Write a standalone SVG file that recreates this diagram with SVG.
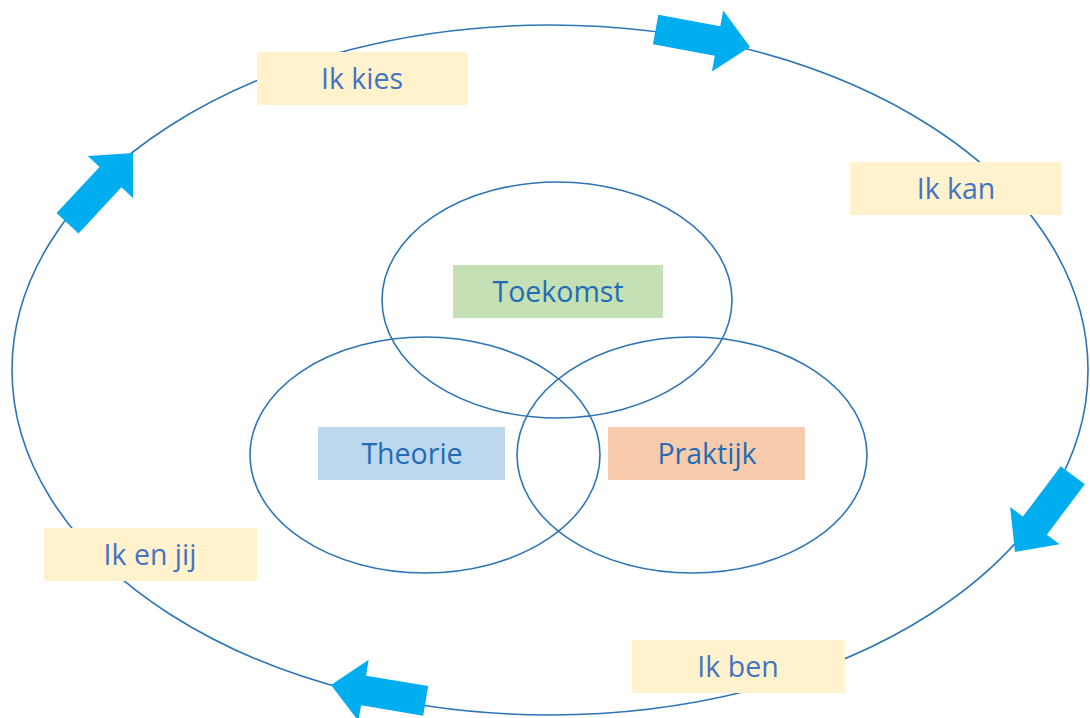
<svg xmlns="http://www.w3.org/2000/svg" width="1090" height="718" viewBox="0 0 1090 718">
  <defs>
    <style>
      .ring { fill: none; stroke: #2E75B6; stroke-width: 1.6; }
      .arrow { fill: #00AEEF; }
      .lbl { font-family: "Open Sans", "Noto Sans", "Liberation Sans", sans-serif; font-size: 28.5px; text-anchor: middle; dominant-baseline: central; }
      .outer-box { fill: #FFF2CC; }
      .outer-txt { fill: #4472C4; }
      .inner-txt { fill: #1F6DB4; }
    </style>
    <polygon id="blockArrow" points="-96,-15 -33,-15 -33,-31 0,0 -33,31 -33,15 -96,15"/>
  </defs>
  <rect width="1090" height="718" fill="#FFFFFF"/>

  <g id="connectors">
    <ellipse class="ring" cx="550" cy="370" rx="538" ry="345"/>
    <use href="#blockArrow" class="arrow" transform="translate(750,47) rotate(10.5)"/>
    <use href="#blockArrow" class="arrow" transform="translate(133,153) rotate(-47)"/>
    <use href="#blockArrow" class="arrow" transform="translate(1015,552) rotate(127)"/>
    <use href="#blockArrow" class="arrow" transform="translate(331,685) rotate(189.5)"/>
  </g>

  <g id="circle-toekomst"><ellipse class="ring" cx="557" cy="300" rx="175" ry="118"/></g>
  <g id="circle-theorie"><ellipse class="ring" cx="425" cy="455" rx="175" ry="118"/></g>
  <g id="circle-praktijk"><ellipse class="ring" cx="692" cy="455" rx="175" ry="118"/></g>

  <g id="node-ik-kies">
    <rect class="outer-box" x="257" y="52" width="211" height="53"/>
    <text class="lbl outer-txt" x="362" y="78">Ik kies</text>
  </g>
  <g id="node-ik-kan">
    <rect class="outer-box" x="850" y="162" width="212" height="53"/>
    <text class="lbl outer-txt" x="956" y="188">Ik kan</text>
  </g>
  <g id="node-ik-en-jij">
    <rect class="outer-box" x="44" y="528" width="213" height="53"/>
    <text class="lbl outer-txt" x="150" y="554">Ik en jij</text>
  </g>
  <g id="node-ik-ben">
    <rect class="outer-box" x="632" y="640" width="213" height="53"/>
    <text class="lbl outer-txt" x="738" y="666">Ik ben</text>
  </g>

  <g id="node-toekomst">
    <rect x="453" y="265" width="210" height="53" fill="#C5E0B4"/>
    <text class="lbl inner-txt" x="558" y="291">Toekomst</text>
  </g>
  <g id="node-theorie">
    <rect x="318" y="427" width="187" height="53" fill="#BDD7EE"/>
    <text class="lbl inner-txt" x="412" y="453">Theorie</text>
  </g>
  <g id="node-praktijk">
    <rect x="608" y="427" width="197" height="53" fill="#F8CBAD"/>
    <text class="lbl inner-txt" x="707" y="453">Praktijk</text>
  </g>
</svg>
